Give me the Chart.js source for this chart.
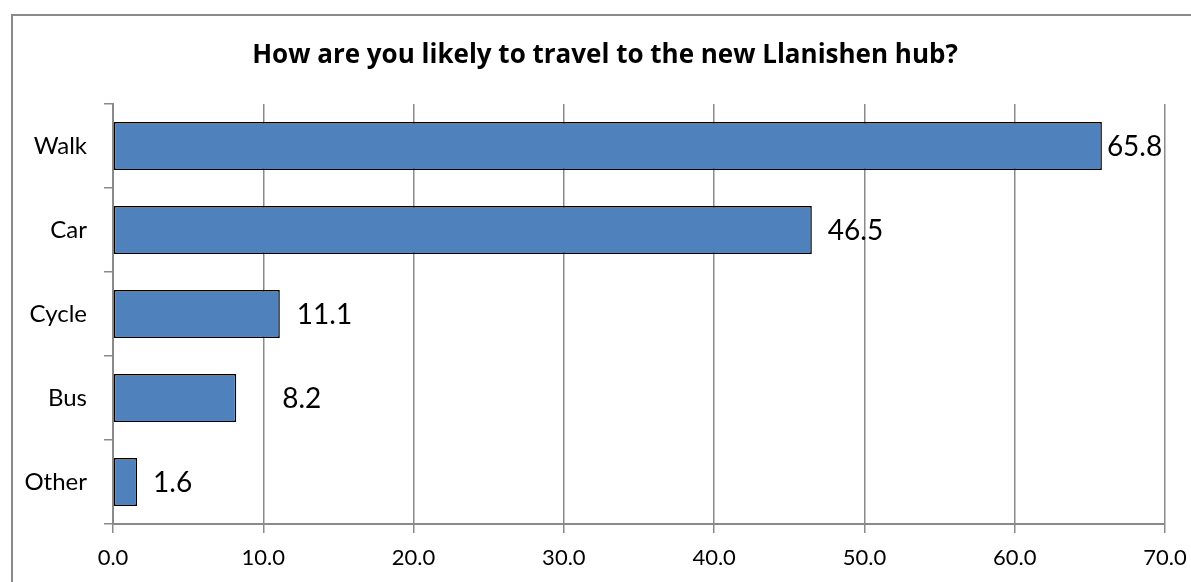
<!DOCTYPE html>
<html>
<head>
<meta charset="utf-8">
<script src="https://cdn.jsdelivr.net/npm/chart.js@4"></script>
<style>
    html, body { margin: 0; padding: 0; background: #ffffff; overflow: hidden; }
    .frame {
        position: absolute; left: 11px; top: 14px;
        width: 1188px; height: 600px;
        border: 2px solid #8a8a8a;
    }
    .wrap { position: absolute; left: 0; top: 0; width: 1191px; height: 582px; }
</style>
</head>
<body>
<div class="frame"></div>
<div class="wrap"><canvas id="travelChart" width="1191" height="582"></canvas></div>
<script>
// ── Survey data ──
var chartTitle = 'How are you likely to travel to the new Llanishen hub?';
var modes = ['Walk', 'Car', 'Cycle', 'Bus', 'Other'];
var percentages = [65.8, 46.5, 11.1, 8.2, 1.6];
var axisTicks = [0, 10, 20, 30, 40, 50, 60, 70];

// gap between bar end and its value label, per bar
var labelGaps = [5, 16, 17, 46, 16];

var FONT = "Lato, 'Open Sans', sans-serif";
var TITLE_FONT = "'Open Sans', Lato, sans-serif";
var AXIS_GREY = '#8a8a8a';

// ── Title + value labels ──
var overlayPlugin = {
    id: 'overlay',
    afterDatasetsDraw: function (chart) {
        var ctx = chart.ctx;
        ctx.save();
        ctx.fillStyle = '#000000';
        ctx.font = 'bold 26px ' + TITLE_FONT;
        ctx.textAlign = 'center';
        ctx.textBaseline = 'alphabetic';
        ctx.fillText(chartTitle, 605, 63);

        ctx.font = '28px ' + FONT;
        ctx.textAlign = 'left';
        ctx.textBaseline = 'middle';
        var meta = chart.getDatasetMeta(0);
        meta.data.forEach(function (bar, i) {
            ctx.fillText(percentages[i].toFixed(1), bar.x + labelGaps[i], bar.y + 1);
        });
        ctx.restore();
    }
};

new Chart(document.getElementById('travelChart'), {
    type: 'bar',
    data: {
        labels: modes,
        datasets: [{
            data: percentages,
            backgroundColor: '#4f81bd',
            borderColor: '#000000',
            borderWidth: 1.5,
            borderSkipped: false,
            categoryPercentage: 1.0,
            barPercentage: 0.57
        }]
    },
    options: {
        indexAxis: 'y',
        responsive: false,
        animation: false,
        layout: { padding: { top: 104, right: 26, left: 0, bottom: 0 } },
        plugins: {
            legend: { display: false },
            title: { display: false },
            tooltip: { enabled: false }
        },
        scales: {
            x: {
                min: 0,
                max: 70,
                afterBuildTicks: function (scale) {
                    scale.ticks = axisTicks.map(function (v) { return { value: v }; });
                },
                afterFit: function (scale) {
                    scale.height = 58;
                    scale.paddingLeft = 0;
                    scale.paddingRight = 0;
                },
                grid: { color: AXIS_GREY, lineWidth: 1.5, tickLength: 9 },
                border: { color: AXIS_GREY, width: 2 },
                ticks: {
                    color: '#000000',
                    font: { family: FONT, size: 22 },
                    padding: 12,
                    maxRotation: 0,
                    callback: function (v) { return Number(v).toFixed(1); }
                }
            },
            y: {
                afterFit: function (scale) {
                    scale.width = 113;
                    scale.paddingTop = 0;
                    scale.paddingBottom = 0;
                },
                grid: {
                    color: AXIS_GREY, lineWidth: 1.5, tickLength: 9,
                    drawOnChartArea: false, offset: true
                },
                border: { color: AXIS_GREY, width: 2 },
                ticks: {
                    color: '#000000',
                    font: { family: FONT, size: 24 },
                    padding: 17
                }
            }
        }
    },
    plugins: [overlayPlugin]
});
</script>
</body>
</html>
